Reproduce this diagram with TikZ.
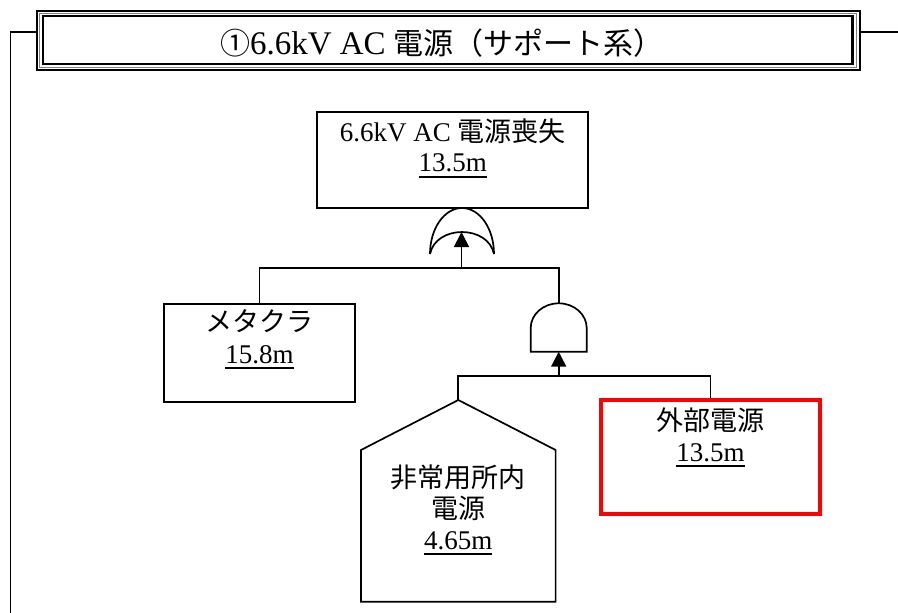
\documentclass[tikz,border=0pt]{standalone}
\usepackage{fontspec}
\setmainfont{Liberation Serif}
\newfontfamily\jpfont{Noto Sans CJK JP}
\usetikzlibrary{arrows.meta}
\newsavebox\myulbox
\newcommand{\myul}[1]{\sbox\myulbox{#1}\rlap{\rule[-6pt]{\wd\myulbox}{2pt}}\usebox\myulbox}
\begin{document}
\begin{tikzpicture}[x=1pt,y=-1pt,line width=1.7pt,
  lbl/.style={inner sep=0pt,anchor=base,font=\fontsize{27}{31}\selectfont},
  evbox/.style={draw,rectangle,inner sep=0pt,line width=1.7pt},
  arrowup/.style={-{Triangle[length=15pt,width=15pt]}}]
\useasboundingbox (0,0) rectangle (898,613);
\fill[white] (0,0) rectangle (898,613);

% title frame
\node[draw,line width=1.8pt,minimum width=823pt,minimum height=59.4pt,inner sep=0pt,outer sep=0pt] (title) at (448.5,40.5) {};
\draw[black!50,line width=1pt] (39.8,13.5) rectangle (856,67);
\draw[line width=2.3pt] (42.8,16.2) rectangle (852.5,63.8);
\node[anchor=base,inner sep=0pt,font=\fontsize{33}{36}\selectfont] (titletext) at (442,54.5) {{\jpfont\fontsize{30}{34}\selectfont ①}6.6kV AC {\jpfont\fontsize{30}{34}\selectfont 電源（サポート系）}};
\coordinate (lEnd) at (10.5,613);
\coordinate (rEnd) at (898,32);
\draw[line width=1.5pt] ([yshift=8.5pt]title.west) -| (lEnd);
\draw[line width=1.5pt] ([yshift=8.5pt]title.east) -- (rEnd);

% top event
\node[evbox,minimum width=271pt,minimum height=96pt] (top) at (452.5,160) {};
\node[lbl] (topA) at (452.7,141) {6.6kV AC {\jpfont 電源喪失}};
\node[lbl] (topB) at (452.7,171.7) {\myul{13.5m}};

% OR gate
\draw (430,254) .. controls (430,228.6) and (444.3,208) .. (462,208) .. controls (479.7,208) and (494,228.6) .. (494,254);
\draw (430,254) .. controls (436,224.7) and (488,224.7) .. (494,254);
\coordinate (orIn) at (461.5,232);
\coordinate (bar1) at (461.5,268);

% metakura
\node[evbox,minimum width=191pt,minimum height=98pt] (meta) at (259.5,353) {};
\node[lbl] (metaA) at (259.5,331) {\jpfont メタクラ};
\node[lbl] (metaB) at (259.5,363.3) {\myul{15.8m}};

% AND gate
\draw (530.7,351.7) -- (530.7,328) .. controls (530.7,314.4) and (543.2,303.3) .. (558.7,303.3) .. controls (574.2,303.3) and (586.7,314.4) .. (586.7,328) -- (586.7,351.7) -- cycle;
\coordinate (andTop) at (558.7,303.3);
\coordinate (andBot) at (558.7,351.7);
\coordinate (bar2) at (558.7,376);

\draw (meta.north) |- (bar1) -| (andTop);
\draw[arrowup] (bar1) -- (orIn);

% house event
\coordinate (house) at (458.3,400);
\draw (house) -- (555.6,450) -- (555.6,601.7) -- (361,601.7) -- (361,450) -- cycle;
\node[lbl] (houseA) at (458.3,487.5) {\jpfont 非常用所内};
\node[lbl] (houseB) at (458.3,518.5) {\jpfont 電源};
\node[lbl] (houseC) at (458.3,549.3) {\myul{4.65m}};

% external power (red)
\node[draw=red,line width=4pt,rectangle,inner sep=0pt,minimum width=219pt,minimum height=113.4pt] (red) at (710.5,457) {};
\node[lbl] (redA) at (710.5,430) {\jpfont 外部電源};
\node[lbl] (redB) at (710.5,461) {\myul{13.5m}};

\draw (house) |- (bar2) -| (red.north);
\draw[arrowup] (bar2) -- (andBot);
\end{tikzpicture}
\end{document}
